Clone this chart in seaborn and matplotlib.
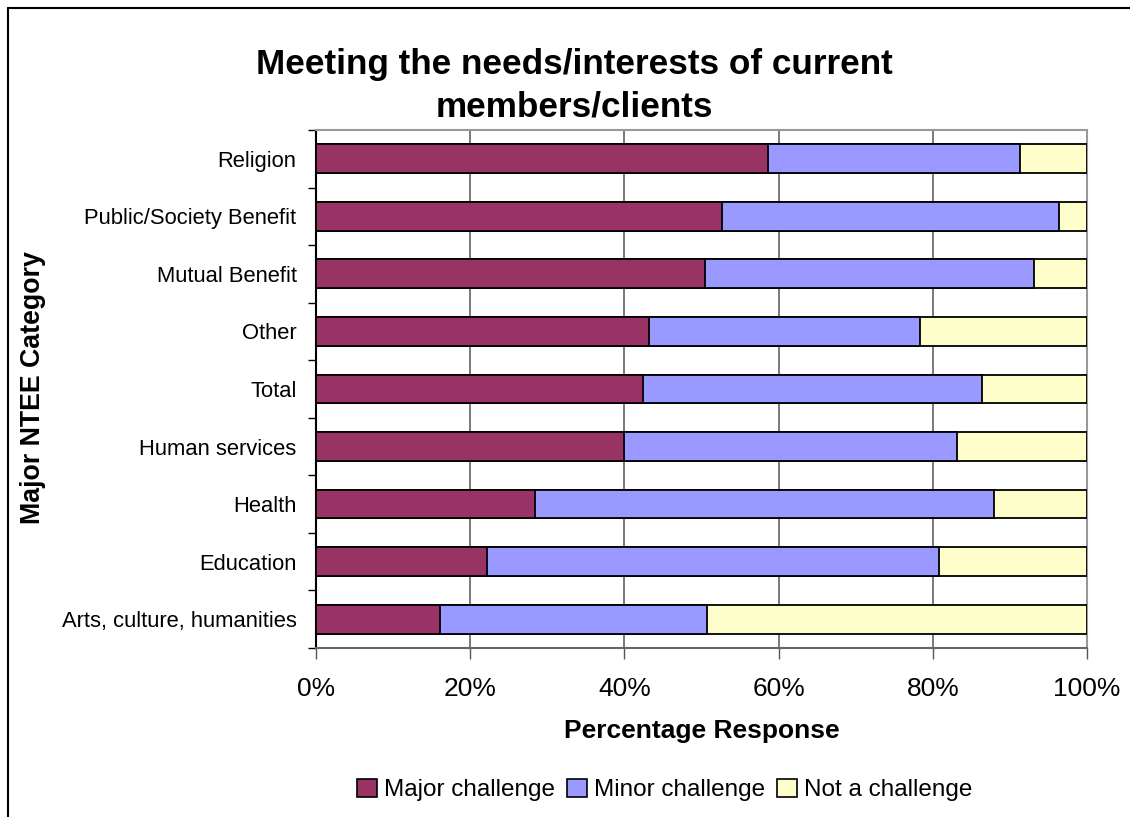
import matplotlib
matplotlib.use("Agg")
import matplotlib.pyplot as plt
from matplotlib.lines import Line2D
from matplotlib.patches import Patch
from matplotlib.ticker import FuncFormatter
import seaborn as sns
import pandas as pd

categories = ["Religion", "Public/Society Benefit", "Mutual Benefit", "Other", "Total",
              "Human services", "Health", "Education", "Arts, culture, humanities"]
major = [58.6, 52.7, 50.5, 43.2, 42.4, 39.9, 28.4, 22.2, 16.1]
minor = [32.7, 43.7, 42.6, 35.1, 44.0, 43.3, 59.5, 58.6, 34.6]
not_challenge = [8.7, 3.6, 6.9, 21.7, 13.6, 16.8, 12.1, 19.2, 49.3]
series_names = ["Major challenge", "Minor challenge", "Not a challenge"]
x_ticks = [0, 20, 40, 60, 80, 100]

colors = ["#993366", "#9999FF", "#FFFFCC"]

sns.set_style("white")
plt.rcParams["font.family"] = ["Liberation Sans", "DejaVu Sans"]
plt.rcParams["text.color"] = "black"
plt.rcParams["xtick.labelcolor"] = "black"
plt.rcParams["ytick.labelcolor"] = "black"

df = pd.DataFrame({"category": categories, "major": major, "minor": minor,
                   "not": not_challenge})
df["major_minor"] = df["major"] + df["minor"]
df["all"] = df["major_minor"] + df["not"]

fig = plt.figure(figsize=(11.3, 8.17), dpi=100)
ax = fig.add_axes([316 / 1130, 1 - 648 / 817, 771 / 1130, 518 / 817])

# Stacked bars: draw cumulative totals from the back to the front
for col, color in zip(["all", "major_minor", "major"], colors[::-1]):
    sns.barplot(data=df, x=col, y="category", order=categories, orient="h",
                color=color, edgecolor="black", linewidth=1.3, width=0.5,
                saturation=1, ax=ax, zorder=3)

ax.set_xlim(0, 100)
ax.set_ylim(len(categories) - 0.5, -0.5)
ax.set_xticks(x_ticks)
ax.xaxis.set_major_formatter(FuncFormatter(lambda v, p: f"{int(v)}%"))
ax.tick_params(axis="x", labelsize=19, length=8, width=1, color="#555555",
               direction="out", pad=13, bottom=True, labelcolor="black")
ax.set_yticks(range(len(categories)))
ax.set_yticklabels(categories)
ax.tick_params(axis="y", which="major", labelsize=15.8, length=0, pad=14,
               labelcolor="black")
# y ticks sit on the category boundaries
ax.set_yticks([i - 0.5 for i in range(len(categories) + 1)], minor=True)
ax.tick_params(axis="y", which="minor", length=6, width=1, color="black", left=True)

for x in x_ticks[1:-1]:
    ax.axvline(x, color="#555555", linewidth=1.1, zorder=1)

ax.spines["left"].set_color("black")
ax.spines["bottom"].set_color("#666666")
ax.spines["top"].set_color("#999999")
ax.spines["right"].set_color("#999999")
for s in ax.spines.values():
    s.set_linewidth(1.5)
    s.set_visible(True)

ax.set_xlabel("")
ax.set_ylabel("")

fig.text(0.508, 1 - 86 / 817, "Meeting the needs/interests of current\nmembers/clients",
         ha="center", va="center", fontsize=25.3, fontweight="bold", linespacing=1.35)
fig.text(701.5 / 1130, 1 - 731 / 817, "Percentage Response", ha="center", va="center",
         fontsize=19, fontweight="bold")
fig.text(33 / 1130, 1 - 388 / 817, "Major NTEE Category", ha="center", va="center",
         rotation=90, fontsize=19.3, fontweight="bold")

handles = [Patch(facecolor=c, edgecolor="black", linewidth=1.2) for c in colors]
fig.legend(handles, series_names, loc="center", bbox_to_anchor=(665 / 1130, 1 - 790 / 817),
           ncol=3, frameon=False, fontsize=17.5, handlelength=0.8, handleheight=0.8,
           handletextpad=0.3, columnspacing=0.5)

# outer chart frame
fig.add_artist(Line2D([8 / 1130, 8 / 1130], [0, 1 - 8 / 817], color="black", linewidth=1.5))
fig.add_artist(Line2D([8 / 1130, 1], [1 - 8 / 817, 1 - 8 / 817], color="black", linewidth=1.5))

fig.savefig("out.png", dpi=100, facecolor="white")
